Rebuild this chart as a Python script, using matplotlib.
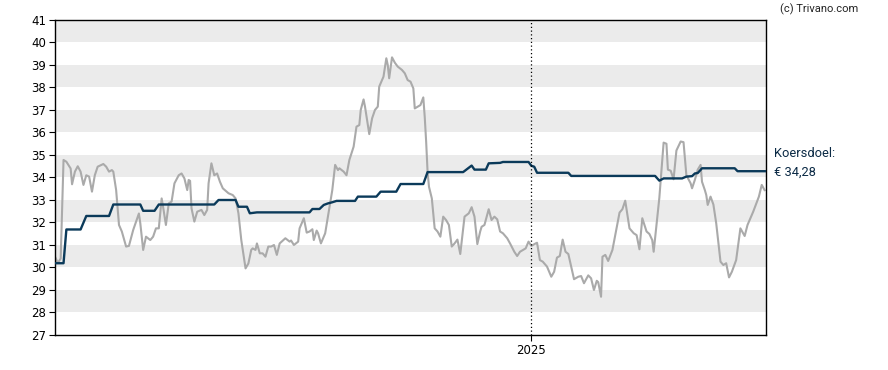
import matplotlib
matplotlib.use("Agg")
import matplotlib.pyplot as plt
import pandas as pd

# startdatum van de grafiek, x-waarden in dagen vanaf de start
start = pd.Timestamp("2024-02-01")
eind = pd.Timestamp("2025-06-15")

# koers (grijze lijn)
koers_dagen = [0, 2, 4, 6, 8, 11, 12, 14, 16, 18, 20, 22, 24, 26, 28, 30, 34, 36, 38, 40,
               41, 43, 45, 47, 50, 52, 55, 59, 60, 62, 64, 67, 69, 71, 73, 75, 76, 78, 80, 82,
               84, 87, 89, 91, 93, 94, 95, 96, 98, 100, 103, 105, 107, 108, 110, 112, 114, 116, 118, 122,
               125, 127, 129, 131, 134, 136, 138, 139, 141, 142, 144, 146, 148, 150, 152, 154, 156, 158, 161, 162,
               165, 166, 168, 171, 172, 175, 177, 179, 181, 182, 184, 185, 187, 189, 190, 195, 197, 199, 200, 203,
               205, 207, 210, 212, 214, 215, 217, 218, 221, 223, 225, 227, 228, 231, 233, 234, 235, 237, 239, 241,
               244, 246, 248, 250, 252, 253, 257, 259, 260, 261, 262, 263, 265, 267, 269, 271, 273, 275, 277, 279,
               281, 283, 285, 288, 291, 293, 295, 297, 299, 300, 302, 305, 307, 309, 311, 313, 315, 318, 320, 323,
               325, 327, 331, 333, 335, 338, 339, 341, 343, 346, 349, 351, 353, 355, 357, 359, 361, 363, 365, 368,
               370, 372, 375, 377, 379, 381, 382, 384, 385, 387, 389, 392, 394, 397, 399, 401, 404, 407, 409, 411,
               413, 416, 418, 420, 421, 423, 425, 428, 430, 431, 433, 435, 437, 440, 442, 444, 447, 448, 450, 452,
               454, 455, 457, 458, 459, 461, 463, 465, 468, 470, 472, 474, 476, 479, 482, 485, 487, 491, 495, 497,
               499]
koers = [30.48, 30.2, 30.4, 34.78, 34.7, 34.4, 33.7, 34.26, 34.5, 34.26, 33.67, 34.1, 34.04, 33.37, 34.1, 34.48, 34.6, 34.48, 34.26, 34.33,
         34.26, 33.44, 31.89, 31.6, 30.93, 30.96, 31.67, 32.4, 31.96, 30.78, 31.37, 31.22, 31.37, 31.74, 31.74, 33.07, 32.7, 31.89, 32.85, 32.93,
         33.74, 34.1, 34.18, 33.96, 33.44, 33.89, 33.85, 32.63, 32.04, 32.48, 32.56, 32.33, 32.56, 33.74, 34.63, 34.1, 34.18, 33.81, 33.52, 33.3,
         33.22, 33.07, 32.41, 31.22, 29.96, 30.18, 30.78, 30.85, 30.78, 31.07, 30.63, 30.63, 30.48, 30.93, 30.93, 31.0, 30.56, 31.07, 31.24, 31.3,
         31.15, 31.2, 31.0, 31.15, 31.74, 32.19, 31.55, 31.6, 31.7, 31.22, 31.64, 31.52, 31.07, 31.37, 31.52, 33.44, 34.56, 34.33, 34.41, 34.26,
         34.1, 34.78, 35.37, 36.26, 36.33, 37.0, 37.47, 37.15, 35.93, 36.63, 37.0, 37.15, 38.04, 38.48, 39.3, 39.0, 38.41, 39.34, 39.1, 38.93,
         38.78, 38.63, 38.33, 38.26, 37.96, 37.07, 37.22, 37.56, 36.7, 35.6, 34.26, 33.59, 33.07, 31.74, 31.6, 31.37, 32.26, 32.11, 31.89, 30.93,
         31.07, 31.24, 30.6, 32.26, 32.41, 32.68, 32.26, 31.04, 31.6, 31.81, 31.89, 32.59, 32.11, 32.26, 32.14, 31.6, 31.52, 31.3, 31.07, 30.7,
         30.51, 30.7, 30.85, 31.15, 30.96, 31.07, 31.1, 30.33, 30.26, 30.04, 29.59, 29.81, 30.44, 30.51, 31.24, 30.7, 30.6, 30.04, 29.48, 29.59,
         29.62, 29.3, 29.65, 29.52, 29.0, 29.41, 29.35, 28.7, 30.48, 30.56, 30.29, 30.78, 31.44, 32.44, 32.59, 32.97, 31.74, 31.52, 31.44, 30.81,
         32.19, 31.6, 31.49, 31.22, 30.7, 31.9, 33.1, 35.55, 35.5, 34.35, 34.3, 33.92, 35.2, 35.6, 35.57, 34.1, 33.74, 33.52, 33.9, 34.35,
         34.56, 33.81, 33.44, 33.22, 32.78, 33.15, 32.8, 31.96, 30.26, 30.11, 30.19, 29.56, 29.81, 30.33, 31.74, 31.4, 31.89, 32.48, 33.15, 33.67,
         33.44]

# koersdoel (donkerblauwe lijn)
doel_dagen = [0, 6, 8, 18, 22, 38, 41, 60, 62, 70, 73, 112, 115, 127, 129, 135, 137, 142, 179, 181,
              186, 189, 192, 195, 198, 211, 213, 226, 229, 240, 243, 259, 262, 287, 293, 295, 303, 305, 313, 315,
              333, 335, 337, 339, 361, 363, 422, 425, 428, 441, 444, 448, 450, 452, 455, 478, 480, 500]
doel = [30.19, 30.19, 31.69, 31.69, 32.29, 32.29, 32.8, 32.8, 32.52, 32.52, 32.8, 32.8, 33.0, 33.0, 32.7, 32.7, 32.41, 32.45, 32.45, 32.6,
        32.6, 32.78, 32.85, 32.9, 32.96, 32.96, 33.15, 33.15, 33.37, 33.37, 33.71, 33.71, 34.24, 34.24, 34.53, 34.35, 34.35, 34.63, 34.65, 34.69,
        34.69, 34.52, 34.48, 34.21, 34.21, 34.07, 34.07, 33.86, 33.96, 33.96, 34.04, 34.06, 34.18, 34.2, 34.41, 34.41, 34.28, 34.28]

koersdoel_tekst = "Koersdoel:\n€ 34,28"

koers_x = start + pd.to_timedelta(koers_dagen, unit="D")
doel_x = start + pd.to_timedelta(doel_dagen, unit="D")
jaar = pd.Timestamp("2025-01-01")

fig = plt.figure(figsize=(8.88, 3.70), dpi=100)
ax = fig.add_axes([55 / 888, 1 - 335 / 370, 711 / 888, 315 / 370])

# grijze banden
for y in range(28, 41, 2):
    ax.axhspan(y, y + 1, color="#ebebeb", lw=0, zorder=0)

ax.plot(koers_x, koers, color="#aaaaaa", lw=1.5, zorder=2)
ax.plot(doel_x, doel, color="#0b3a5a", lw=1.7, zorder=3)

ax.axvline(jaar, color="black", lw=0.9, linestyle=(0, (1, 2)), zorder=4)

ax.set_xlim(start, eind)
ax.set_ylim(27, 41)
ax.set_yticks(range(27, 42))
ax.set_xticks([jaar])
ax.set_xticklabels(["2025"])
ax.tick_params(axis="both", labelsize=8.5, length=4, width=0.8, color="black", pad=2.5)
for lab in ax.get_yticklabels() + ax.get_xticklabels():
    lab.set_fontfamily("DejaVu Sans")
for s in ax.spines.values():
    s.set_linewidth(1.0)

fig.text(774 / 888, 1 - 163 / 370, koersdoel_tekst, fontsize=9.3, family="Roboto",
         color="#0b2a45", va="center", ha="left", linespacing=1.5)
fig.text(858 / 888, 1 - 9 / 370, "(c) Trivano.com", fontsize=8, family="Roboto",
         color="#222222", va="center", ha="right")

fig.savefig("out.png", dpi=100)
